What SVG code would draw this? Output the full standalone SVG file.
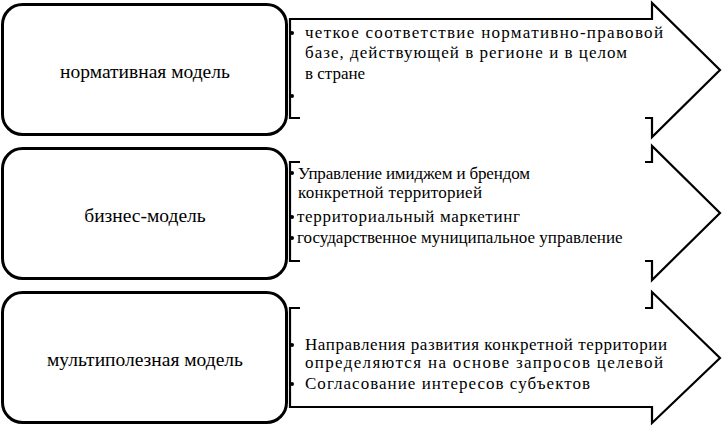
<svg xmlns="http://www.w3.org/2000/svg" width="722" height="427" viewBox="0 0 722 427">
<style>
.box{fill:#fff;stroke:#000;stroke-width:3}
.arr{fill:none;stroke:#000;stroke-width:2.2;stroke-linejoin:miter}
.bg{fill:#fff;stroke:none}
.dot{fill:#000}
</style>
<rect width="722" height="427" fill="#fff"/>
<g id="arrows" font-family="'Liberation Serif', serif" font-size="17" fill="#000">
  <g id="arrow1">
    <path class="bg" d="M289,19 L652,19 L652,3 L720,70 L652,137 L652,118 L289,118 Z"/>
    <path class="arr" d="M300,118 L290,118 L290,19 L652,19 L652,3 L720,70 L652,137 L652,118 L645,118"/>
    <circle class="dot" cx="292" cy="33" r="2"/>
    <circle class="dot" cx="292" cy="96" r="2"/>
    <text x="305" y="38" textLength="358">четкое соответствие нормативно-правовой</text>
    <text x="305" y="58" textLength="322">базе, действующей в регионе и в целом</text>
    <text x="305" y="79">в стране</text>
  </g>
  <g id="arrow2">
    <path class="bg" d="M289,162 L652,162 L652,146 L720,213 L652,280 L652,261 L289,261 Z"/>
    <path class="arr" d="M300,162 L290,162 L290,261 L300,261 M645,162 L652,162 L652,146 L720,213 L652,280 L652,261 L645,261"/>
    <circle class="dot" cx="292" cy="173" r="2"/>
    <circle class="dot" cx="292" cy="217" r="2"/>
    <circle class="dot" cx="292" cy="238" r="2"/>
    <text x="298" y="179" textLength="232">Управление имиджем и брендом</text>
    <text x="298" y="198" textLength="184">конкретной территорией</text>
    <text x="297" y="222" textLength="223">территориальный маркетинг</text>
    <text x="297" y="243">государственное муниципальное управление</text>
  </g>
  <g id="arrow3">
    <path class="bg" d="M289,308 L652,308 L652,292 L720,358 L652,423 L652,407 L289,407 Z"/>
    <path class="arr" d="M300,308 L290,308 L290,407 L652,407 L652,423 L720,358 L652,292 L652,308 L645,308"/>
    <circle class="dot" cx="292" cy="345" r="2"/>
    <circle class="dot" cx="292" cy="384" r="2"/>
    <text x="305" y="350" textLength="362">Направления развития конкретной территории</text>
    <text x="305" y="368" textLength="358">определяются на основе запросов целевой</text>
    <text x="305" y="389" textLength="285">Согласование интересов субъектов</text>
  </g>
</g>
<g font-family="'Liberation Serif', serif" font-size="19.5" fill="#000" text-anchor="middle">
<g id="node1">
  <rect class="box" x="2.5" y="4.5" width="284" height="130" rx="20"/>
  <text x="145" y="78">нормативная модель</text>
</g>
<g id="node2">
  <rect class="box" x="2.5" y="148.5" width="284" height="130" rx="20"/>
  <text x="145" y="222">бизнес-модель</text>
</g>
<g id="node3">
  <rect class="box" x="2.5" y="292.5" width="284" height="130" rx="20"/>
  <text x="145" y="366">мультиполезная модель</text>
</g>
</g>
</svg>
